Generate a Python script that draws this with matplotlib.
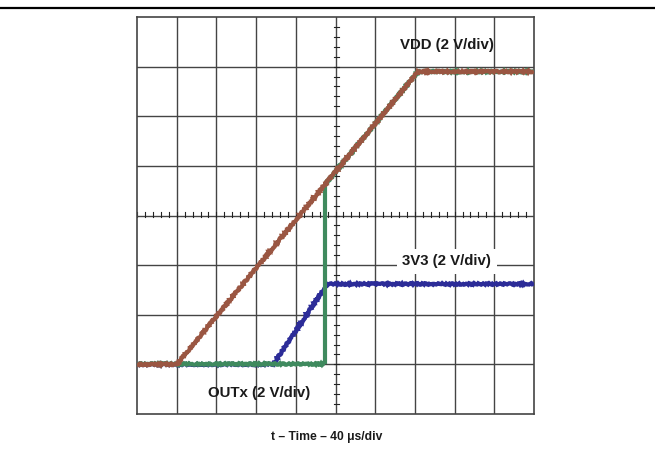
import matplotlib
matplotlib.use("Agg")
import matplotlib.pyplot as plt
from matplotlib.lines import Line2D

plt.rcParams['font.family'] = ['Liberation Sans', 'DejaVu Sans']

# scope traces, in divisions (x: 40 us/div, y: 2 V/div, ground at 1 div)
vdd_x = [0, 1.0, 7.08, 10]
vdd_y = [1.0, 1.0, 6.9, 6.9]
v3v3_x = [0, 3.43, 4.79, 10]
v3v3_y = [1.0, 1.0, 2.62, 2.62]
outx_x = [0, 4.74, 4.74, 7.08, 10]
outx_y = [1.0, 1.0, 4.63, 6.9, 6.9]

labels = ['VDD (2 V/div)', '3V3 (2 V/div)', 'OUTx (2 V/div)']
label_x = [7.8, 7.8, 3.07]
label_y = [7.44, 3.08, 0.42]
xlabel = 't \u2013 Time \u2013 40 \u03bcs/div'

red = '#9a5642'
green = '#3f8a5e'
blue = '#2c2c98'
gridc = '#444444'
txt = '#1a1a1a'

fig = plt.figure(figsize=(6.55, 4.5), dpi=100)
ax = fig.add_axes([137/655, 36/450, 397/655, 397/450])
ax.set_xlim(0, 10)
ax.set_ylim(0, 8)
ax.set_xticks([])
ax.set_yticks([])
for s in ax.spines.values():
  s.set_color(gridc)
  s.set_linewidth(1.2)

for k in range(1, 10):
  ax.axvline(k, color=gridc, lw=1, zorder=1)
for k in range(1, 8):
  ax.axhline(k, color=gridc, lw=1, zorder=1)

# minor ticks on the centre lines
for k in range(50):
  t = k * 0.2
  ax.plot([t, t], [4 - 0.03, 4 + 0.07], color='#222222', lw=0.8, zorder=1)
for k in range(40):
  t = k * 0.2
  ax.plot([5 - 0.05, 5 + 0.09], [t, t], color='#222222', lw=0.8, zorder=1)

def trace(xs, ys, c, z, sketch=True):
  ln, = ax.plot(xs, ys, color=c, lw=3.0, solid_joinstyle='miter',
                solid_capstyle='butt', zorder=z)
  if sketch:
    ln.set_sketch_params(scale=0.8, length=4, randomness=3)

trace(v3v3_x, v3v3_y, blue, 3)
trace(outx_x[:2], outx_y[:2], green, 4)
trace(outx_x[1:3], outx_y[1:3], green, 4, sketch=False)
trace(outx_x[2:], outx_y[2:], green, 4)
trace(vdd_x, vdd_y, red, 5)

for i in range(3):
  bb = None
  if i == 1:
    bb = dict(facecolor='white', edgecolor='none', pad=4)
  ax.text(label_x[i], label_y[i], labels[i], ha='center', va='center',
          fontsize=10.8, fontweight='bold', color=txt, bbox=bb, zorder=10)

fig.text(327/655, 1 - 437/450, xlabel, ha='center', va='center',
         fontsize=8.7, fontweight='bold', color=txt)

# rule across the top of the page
fig.add_artist(Line2D([0, 1], [1 - 8/450, 1 - 8/450], color='black', lw=1.6))

fig.savefig('out.png', dpi=100)
